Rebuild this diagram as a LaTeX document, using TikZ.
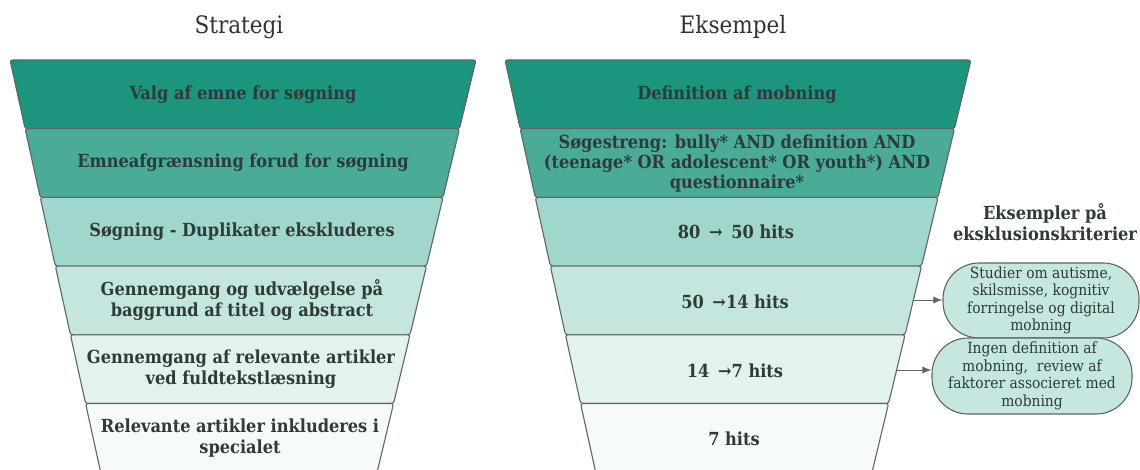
\documentclass[tikz,border=0pt]{standalone}
\usepackage{fontspec}
\setmainfont{DejaVu Serif Condensed}
\usetikzlibrary{arrows.meta}
\definecolor{c1}{HTML}{1B957D}
\definecolor{c2}{HTML}{4AAB97}
\definecolor{c3}{HTML}{A0D7CD}
\definecolor{c4}{HTML}{C4E6DF}
\definecolor{c5}{HTML}{E2F2EF}
\definecolor{c6}{HTML}{F6FAF9}
\definecolor{edgec}{HTML}{5E6664}
\definecolor{txt}{HTML}{2E3B39}
\definecolor{bub}{HTML}{C6E7E0}
\definecolor{ttl}{HTML}{333333}
\begin{document}
\begin{tikzpicture}[x=1pt,y=-1pt,
  layer/.style={draw=edgec,line width=1.1pt,rounded corners=2.5pt},
  ltext/.style={font=\fontsize{18}{21}\selectfont\bfseries,text=txt,align=center},
  ttext/.style={font=\fontsize{24}{28}\selectfont,text=ttl},
  bubble/.style={draw=edgec,line width=1.1pt,fill=bub,rounded corners=36pt,
     inner sep=0pt,align=center,text=txt,font=\fontsize{15.4}{17.5}\selectfont},
  arr/.style={draw=edgec,line width=1pt,-{Latex[length=9pt,width=7pt]}}]
\useasboundingbox (0,0) rectangle (1140,470);
\fill[white] (0,0) rectangle (1140,470);
\foreach \xl/\xr in {10/476,505/971}{
  \foreach \i/\col in {0/c1,1/c2,2/c3,3/c4,4/c5,5/c6}{
    \pgfmathsetmacro\yt{60+68.7*\i}
    \pgfmathsetmacro\yb{\i==5 ? 480 : \yt+68.7}
    \pgfmathsetmacro\pa{\xl+0.22*(\yt-60)}
    \pgfmathsetmacro\pb{\xr-0.24*(\yt-60)}
    \pgfmathsetmacro\pc{\xr-0.24*(\yb-60)}
    \pgfmathsetmacro\pd{\xl+0.22*(\yb-60)}
    \draw[layer,fill=\col] (\pa,\yt) -- (\pb,\yt) -- (\pc,\yb) -- (\pd,\yb) -- cycle;
  }
}
% titles
\node[ttext] (t1) at (239,27) {Strategi};
\node[ttext] (t2) at (733,27) {Eksempel};
% left funnel texts
\node[ltext] (s1) at (243,94.4) {Valg af emne for søgning};
\node[ltext] (s2) at (243,163) {Emneafgrænsning forud for søgning};
\node[ltext] (s3) at (242,231.8) {Søgning - Duplikater ekskluderes};
\node[ltext] (s4) at (242,300.5) {Gennemgang og udvælgelse på\\baggrund af titel og abstract};
\node[ltext] (s5) at (241,369.2) {Gennemgang af relevante artikler\\ved fuldtekstlæsning};
\node[ltext] (s6) at (240,437.9) {Relevante artikler inkluderes i\\specialet};
% right funnel texts
\node[ltext,font=\fontsize{18}{20}\selectfont\bfseries] (e1) at (737,94.4) {Definition af mobning};
\node[ltext,font=\fontsize{18}{20}\selectfont\bfseries] (e2) at (737,164) {Søgestreng: bully* AND definition AND\\(teenage* OR adolescent* OR youth*) AND\\questionnaire*};
\node[ltext] (e3) at (736,231.8) {80 \,→\, 50 hits};
\node[ltext] (e4) at (735,302) {50 \,→14 hits};
\node[ltext] (e5) at (735,371) {14 \,→7 hits};
\node[ltext] (e6) at (734,439) {7 hits};
% exclusion heading
\node[ltext] (h) at (1045,222) {Eksempler på\\eksklusionskriterier};
% bubbles
\node[bubble,minimum width=196pt,minimum height=75pt] (b1) at (1041,300.5)
  {Studier om autisme,\\skilsmisse, kognitiv\\forringelse og digital\\mobning};
\node[bubble,minimum width=200pt,minimum height=76pt] (b2) at (1032,376)
  {Ingen definition af\\mobning,\ \ review af\\faktorer associeret med\\mobning};
\coordinate (a1) at (913,300);
\coordinate (a2) at (897,370);
\draw[arr] (a1) -- (a1 -| b1.west);
\draw[arr] (a2) -- (a2 -| b2.west);
\end{tikzpicture}
\end{document}
